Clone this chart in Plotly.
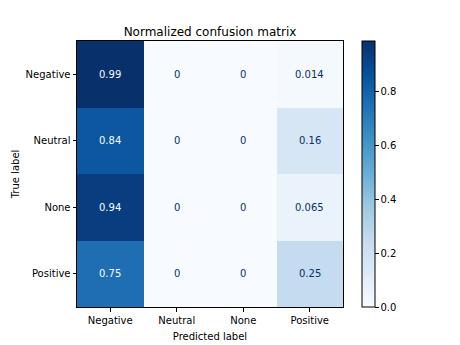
import plotly.graph_objects as go

pred_labels = ["Negative", "Neutral", "None", "Positive"]
true_labels = ["Negative", "Neutral", "None", "Positive"]
matrix = [
    [0.986, 0.0, 0.0, 0.014],
    [0.84, 0.0, 0.0, 0.16],
    [0.935, 0.0, 0.0, 0.065],
    [0.75, 0.0, 0.0, 0.25],
]
cell_text = [
    ["0.99", "0", "0", "0.014"],
    ["0.84", "0", "0", "0.16"],
    ["0.94", "0", "0", "0.065"],
    ["0.75", "0", "0", "0.25"],
]
cbar_ticks = [0.0, 0.2, 0.4, 0.6, 0.8]

blues = ["#f7fbff", "#deebf7", "#c6dbef", "#9ecae1", "#6baed6",
         "#4292c6", "#2171b5", "#08519c", "#08306b"]
colorscale = [[i / (len(blues) - 1), c] for i, c in enumerate(blues)]

zmin = 0.0
zmax = max(max(r) for r in matrix)
thresh = (zmin + zmax) / 2

FONT = "DejaVu Sans"

fig = go.Figure()
fig.add_trace(go.Heatmap(
    z=matrix, x=pred_labels, y=true_labels,
    colorscale=colorscale, zmin=zmin, zmax=zmax,
    hoverinfo="skip",
    colorbar=dict(
        x=1.071, xanchor="left", xref="paper",
        y=0.5, yanchor="middle", len=1.0, lenmode="fraction",
        thickness=13, thicknessmode="pixels",
        outlinecolor="black", outlinewidth=1,
        tickvals=cbar_ticks, ticktext=[f"{v:.1f}" for v in cbar_ticks],
        ticks="outside", ticklen=3.5, tickwidth=0.8, tickcolor="black",
        tickfont=dict(family=FONT, size=10, color="black"),
        xpad=0, ypad=0,
    ),
))

for i, row in enumerate(matrix):
    for j, v in enumerate(row):
        fig.add_annotation(
            x=pred_labels[j], y=true_labels[i], text=cell_text[i][j],
            showarrow=False,
            font=dict(family=FONT, size=10,
                      color="#f7fbff" if v > thresh else "#08306b"),
        )

axis_common = dict(
    showline=True, linecolor="black", linewidth=1, mirror=True,
    ticks="outside", ticklen=3.5, tickwidth=0.8, tickcolor="black",
    tickfont=dict(family=FONT, size=10, color="black"),
    showgrid=False, zeroline=False, automargin=False,
)

fig.update_layout(
    width=460, height=345,
    margin=dict(l=77, r=117, t=41, b=38),
    paper_bgcolor="white", plot_bgcolor="white",
    title=dict(text="Normalized confusion matrix", x=0.5, xref="paper",
               xanchor="center", y=1, yref="paper", yanchor="bottom",
               pad=dict(b=5),
               font=dict(family=FONT, size=12, color="black")),
    xaxis=dict(title=dict(text="Predicted label", standoff=8,
                          font=dict(family=FONT, size=10, color="black")),
               **axis_common),
    yaxis=dict(title=dict(text="True label", standoff=4,
                          font=dict(family=FONT, size=10, color="black")),
               autorange="reversed", **axis_common),
    font=dict(family=FONT),
)

fig.write_html("out.html")
